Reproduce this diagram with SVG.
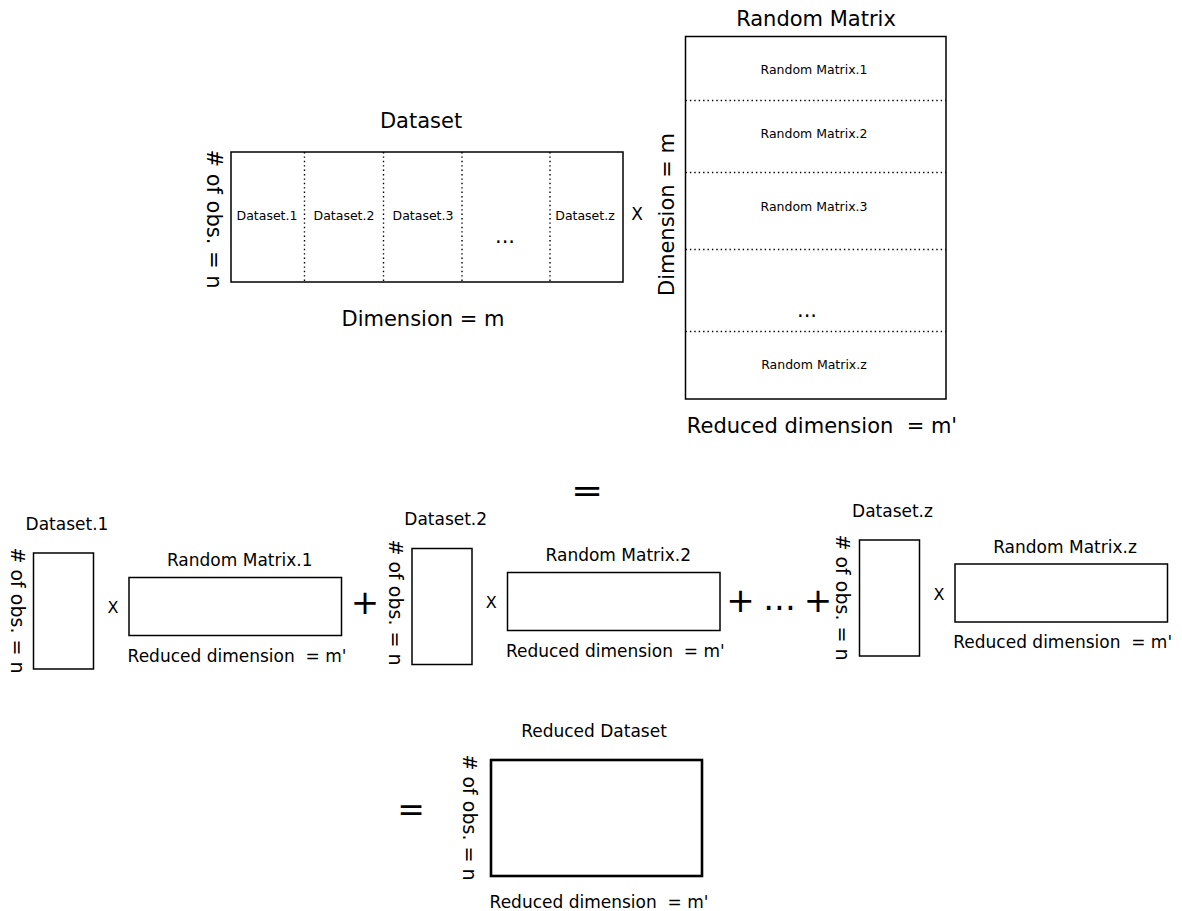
<svg xmlns="http://www.w3.org/2000/svg" width="1182" height="911" viewBox="0 0 1182 911">
<style>
text{font-family:"DejaVu Sans","Liberation Sans",sans-serif;fill:#000;white-space:pre}
.box{fill:#fff;stroke:#000;stroke-width:1.5}
.thick{fill:#fff;stroke:#000;stroke-width:2.6}
.dot{fill:none;stroke:#000;stroke-width:1.4;stroke-dasharray:1.4 3}
.t21{font-size:21px}
.t17{font-size:17px}
.t19{font-size:19px}
.t16{font-size:16px}
.s{font-size:12.5px}
.op{font-size:34px}
.m{text-anchor:middle}
</style>
<rect width="1182" height="911" fill="#fff"/>
<g id="connectors"/>

<g id="dataset">
<text class="t21 m" x="421" y="128">Dataset</text>
<rect class="box" x="231" y="152" width="392" height="130"/>
<line class="dot" x1="304.5" y1="152" x2="304.5" y2="282"/>
<line class="dot" x1="383.5" y1="152" x2="383.5" y2="282"/>
<line class="dot" x1="462" y1="152" x2="462" y2="282"/>
<line class="dot" x1="550" y1="152" x2="550" y2="282"/>
<text class="s m" x="267" y="219.5">Dataset.1</text>
<text class="s m" x="344" y="219.5">Dataset.2</text>
<text class="s m" x="423" y="219.5">Dataset.3</text>
<text class="s m" x="585" y="219.5">Dataset.z</text>
<text class="t21 m" x="505" y="243">...</text>
<text class="t21 m" transform="translate(207,219) rotate(90)"># of obs. = n</text>
<text class="t21 m" x="423" y="326">Dimension = m</text>
</g>

<g id="times-top"><text class="t17 m" x="637" y="220">X</text></g>

<g id="random-matrix">
<text class="t21 m" x="816" y="26">Random Matrix</text>
<rect class="box" x="685.5" y="36.5" width="260.5" height="362.5"/>
<line class="dot" x1="685.5" y1="100.5" x2="946" y2="100.5"/>
<line class="dot" x1="685.5" y1="172.5" x2="946" y2="172.5"/>
<line class="dot" x1="685.5" y1="249.5" x2="946" y2="249.5"/>
<line class="dot" x1="685.5" y1="331.5" x2="946" y2="331.5"/>
<text class="s m" x="814" y="73.5">Random Matrix.1</text>
<text class="s m" x="814" y="137.5">Random Matrix.2</text>
<text class="s m" x="814" y="210.5">Random Matrix.3</text>
<text class="t21 m" x="807" y="317">...</text>
<text class="s m" x="814" y="368.5">Random Matrix.z</text>
<text class="t21 m" transform="translate(674,214.5) rotate(-90)">Dimension = m</text>
<text class="t21 m" x="822" y="433">Reduced dimension  = m'</text>
</g>

<g id="equals-top"><text class="m" style="font-size:32px" transform="translate(587,501.5) scale(1.2,1)">=</text></g>

<g id="dataset-1">
<text class="t17 m" x="67" y="530">Dataset.1</text>
<rect class="box" x="33.5" y="553" width="60" height="116"/>
<text class="t19 m" transform="translate(10.5,610.5) rotate(90)"># of obs. = n</text>
</g>
<g id="times-1"><text class="t16 m" x="113" y="612.7">X</text></g>
<g id="random-matrix-1">
<text class="t17 m" x="239.7" y="566">Random Matrix.1</text>
<rect class="box" x="129" y="577.5" width="212.5" height="58"/>
<text class="t17 m" x="237" y="661.7">Reduced dimension  = m'</text>
</g>
<g id="plus-1"><text class="op m" x="365" y="614">+</text></g>

<g id="dataset-2">
<text class="t17 m" x="445.7" y="525">Dataset.2</text>
<rect class="box" x="412" y="548.5" width="60" height="116"/>
<text class="t19 m" transform="translate(389,602.5) rotate(90)"># of obs. = n</text>
</g>
<g id="times-2"><text class="t16 m" x="491.3" y="608.3">X</text></g>
<g id="random-matrix-2">
<text class="t17 m" x="618.3" y="561">Random Matrix.2</text>
<rect class="box" x="507.5" y="572.5" width="212.5" height="58"/>
<text class="t17 m" x="615.3" y="656.7">Reduced dimension  = m'</text>
</g>
<g id="plus-2"><text class="op m" x="740.5" y="611.5">+</text></g>
<g id="ellipsis"><text class="op m" x="779.5" y="610">...</text></g>
<g id="plus-3"><text class="op m" x="818" y="611.5">+</text></g>

<g id="dataset-z">
<text class="t17 m" x="892.5" y="516.7">Dataset.z</text>
<rect class="box" x="859.5" y="540" width="60" height="116"/>
<text class="t19 m" transform="translate(836,597.5) rotate(90)"># of obs. = n</text>
</g>
<g id="times-z"><text class="t16 m" x="939" y="600">X</text></g>
<g id="random-matrix-z">
<text class="t17 m" x="1065" y="553.3">Random Matrix.z</text>
<rect class="box" x="955" y="564" width="212.5" height="58"/>
<text class="t17 m" x="1062.7" y="648.3">Reduced dimension  = m'</text>
</g>

<g id="equals-bottom"><text class="m" style="font-size:33px" x="411" y="821">=</text></g>

<g id="reduced-dataset">
<text class="t17 m" x="594" y="737.3">Reduced Dataset</text>
<rect class="thick" x="491" y="760" width="211" height="116"/>
<text class="t19 m" transform="translate(463,817.5) rotate(90)"># of obs. = n</text>
<text class="t17 m" x="599" y="908.3">Reduced dimension  = m'</text>
</g>
</svg>
